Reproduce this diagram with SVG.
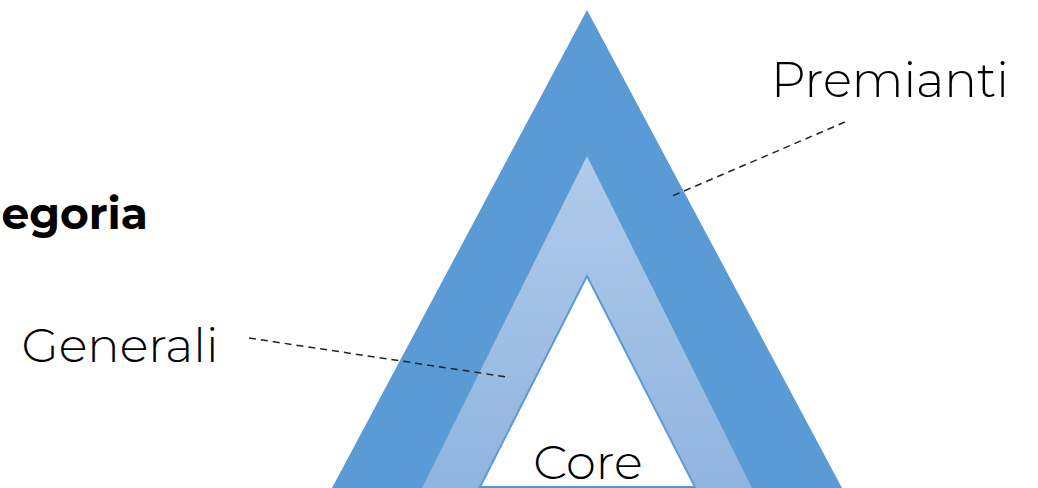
<svg xmlns="http://www.w3.org/2000/svg" width="1038" height="488" viewBox="0 0 1038 488">
<style>
.lbl{font-family:"Montserrat","Inter","Noto Sans","Liberation Sans",sans-serif;font-weight:300;fill:#000}
.lead{stroke:#222;stroke-width:1.5;stroke-dasharray:7 5;fill:none}
</style>
<defs>
<linearGradient id="mid" x1="0" y1="0" x2="0" y2="1">
<stop offset="0" stop-color="#b0cbea"/>
<stop offset="1" stop-color="#90b4e0"/>
</linearGradient>
</defs>
<g id="outer"><polygon points="587,10 842,488 332,488" fill="#5b9bd5"/></g>
<g id="middle"><polygon points="587,156 752,488 422,488" fill="url(#mid)"/></g>
<g id="core"><polygon points="587,276 695,487 480,487" fill="#fff" stroke="#5b9bd5" stroke-width="2"/>
<line x1="480" y1="487.5" x2="695" y2="487.5" stroke="#888" stroke-width="1"/>
<text class="lbl" x="588" y="479" font-size="48" text-anchor="middle">Core</text></g>
<g id="premianti"><text class="lbl" x="890" y="97" font-size="48.5" text-anchor="middle">Premianti</text></g>
<g id="generali"><text class="lbl" x="120" y="362" font-size="48" text-anchor="middle">Generali</text></g>
<g id="categoria"><text x="148" y="229" font-size="44" font-weight="700" text-anchor="end" font-family="Montserrat,Inter,'Noto Sans','Liberation Sans',sans-serif">egoria</text></g>
<g id="connectors">
<line class="lead" x1="845" y1="122" x2="670" y2="197"/>
<line class="lead" x1="249" y1="338" x2="507" y2="377"/>
</g>
</svg>
